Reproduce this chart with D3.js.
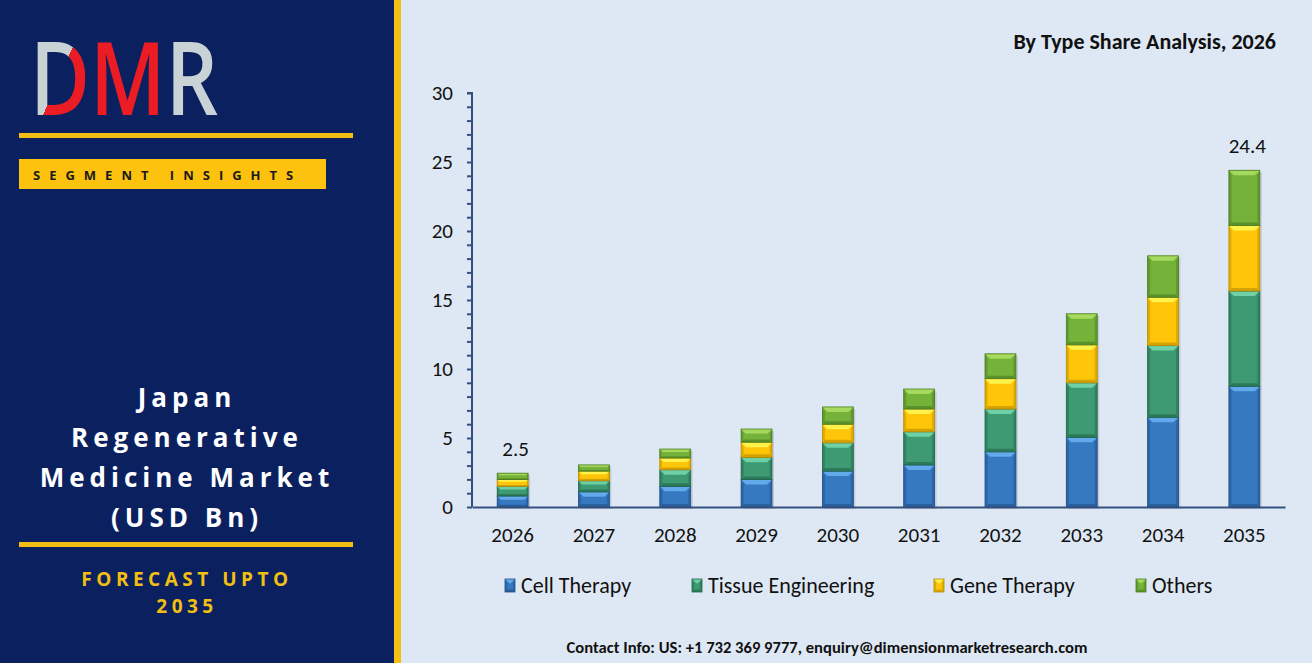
<!DOCTYPE html>
<html><head><meta charset="utf-8">
<script src="https://cdn.jsdelivr.net/npm/d3@7"></script>
<style>
html,body{margin:0;padding:0;background:#fff;}
svg{display:block;}
</style></head>
<body>
<script>
const years = ["2026","2027","2028","2029","2030","2031","2032","2033","2034","2035"];
const seriesNames = ["Cell Therapy","Tissue Engineering","Gene Therapy","Others"];
const cellTherapy = [0.8, 1.1, 1.5, 2.0, 2.6, 3.05, 4.0, 5.05, 6.5, 8.75];
const tissueEngineering = [0.7, 0.8, 1.2, 1.6, 2.05, 2.4, 3.1, 3.95, 5.2, 6.9];
const geneTherapy = [0.5, 0.7, 0.85, 1.1, 1.35, 1.65, 2.2, 2.75, 3.5, 4.75];
const others = [0.45, 0.45, 0.65, 0.95, 1.25, 1.45, 1.8, 2.25, 3.0, 4.0];
const totalLabels = {"2026":"2.5","2035":"24.4"};
const yTicks = d3.range(0, 31, 1);

const W = 1312, H = 668;
const svg = d3.select("body").append("svg").attr("width", W).attr("height", H);
const FONT = "Carlito, Calibri, 'Open Sans', sans-serif";

// backgrounds
svg.append("rect").attr("x",0).attr("y",0).attr("width",W).attr("height",H).attr("fill","#ffffff");
svg.append("rect").attr("x",394).attr("y",0).attr("width",W-394).attr("height",663).attr("fill","#dee8f4");
svg.append("rect").attr("x",0).attr("y",0).attr("width",394).attr("height",663).attr("fill","#0b215f");
svg.append("rect").attr("x",394).attr("y",0).attr("width",7).attr("height",663).attr("fill","#f3bf12");

// logo
const defs = svg.append("defs");
const grad = defs.append("linearGradient").attr("id","dgrad")
  .attr("x1","0").attr("y1","0").attr("x2","1").attr("y2","1");
grad.append("stop").attr("offset","50%").attr("stop-color","#c9d3d6");
grad.append("stop").attr("offset","50%").attr("stop-color","#ec1c24");
const logoG = svg.append("g");
const logoLetters = [{t:"D", f:"url(#dgrad)"},{t:"M", f:"#ec1c24"},{t:"R", f:"#c9d3d6"}];
let lx = 0;
logoLetters.forEach(l=>{
  const t = logoG.append("text").attr("x",lx).attr("y",0).attr("font-family","'Open Sans', sans-serif")
    .attr("font-weight",600).attr("font-size",101).attr("fill",l.f).text(l.t);
  lx += t.node().getComputedTextLength();
});
const sx = 188 / lx;
logoG.attr("transform",`translate(30,115) scale(${sx},1)`);

svg.append("rect").attr("x",19).attr("y",133).attr("width",334).attr("height",5).attr("fill","#f3bf12");
svg.append("rect").attr("x",19).attr("y",159).attr("width",307).attr("height",30).attr("fill","#fcc20e");
svg.append("text").attr("x",33).attr("y",180).attr("font-family","'Open Sans', sans-serif")
  .attr("font-weight",700).attr("font-size",13).attr("fill","#1a1a1a")
  .attr("letter-spacing","9px").text("SEGMENT INSIGHTS");

const titleLines = ["Japan","Regenerative","Medicine Market","(USD Bn)"];
svg.append("g").selectAll("text").data(titleLines).join("text")
  .attr("x",187).attr("y",(d,i)=>407+i*40).attr("text-anchor","middle")
  .attr("font-family","'Open Sans', sans-serif").attr("font-weight",700).attr("font-size",26)
  .attr("letter-spacing","5px").attr("fill","#ffffff").text(d=>d);

svg.append("rect").attr("x",19).attr("y",542).attr("width",334).attr("height",5).attr("fill","#f3bf12");
svg.append("g").selectAll("text").data(["FORECAST UPTO","2035"]).join("text")
  .attr("x",187).attr("y",(d,i)=>586+i*27).attr("text-anchor","middle")
  .attr("font-family","'Open Sans', sans-serif").attr("font-weight",700).attr("font-size",19)
  .attr("letter-spacing","4.5px").attr("fill","#f3bf12").text(d=>d);

// subtitle
svg.append("text").attr("x",1276).attr("y",49).attr("text-anchor","end")
  .attr("font-family",FONT).attr("font-weight",700).attr("font-size",22).attr("fill","#111")
  .text("By Type Share Analysis, 2026");

// chart
const x = d3.scaleBand().domain(years).range([472,1285]).paddingInner(0.62).paddingOuter(0.31);
const y = d3.scaleLinear().domain([0,30]).range([507,93]);

const rows = years.map((yr,i)=>({year:yr, "Cell Therapy":cellTherapy[i], "Tissue Engineering":tissueEngineering[i], "Gene Therapy":geneTherapy[i], "Others":others[i]}));
const stack = d3.stack().keys(seriesNames)(rows);
const colors = {
  "Cell Therapy": {base:"#3679c1", light:"#62aaea", dark:"#1f4e86"},
  "Tissue Engineering": {base:"#3e9a72", light:"#6dd0a6", dark:"#22664a"},
  "Gene Therapy": {base:"#ffc609", light:"#fff24c", dark:"#b88c00"},
  "Others": {base:"#74b23a", light:"#a6da5e", dark:"#4a7b20"}
};

function bevel(g, x0, y0, w, h, c){
  const b = Math.min(5, h/3);
  g.append("rect").attr("x",x0).attr("y",y0).attr("width",w).attr("height",h).attr("fill",c.base);
  g.append("path").attr("d",`M${x0},${y0} L${x0+w},${y0} L${x0+w-b},${y0+b} L${x0+b},${y0+b} Z`).attr("fill",c.light);
  g.append("path").attr("d",`M${x0},${y0+h} L${x0+w},${y0+h} L${x0+w-b*0.6},${y0+h-b*0.6} L${x0+b*0.6},${y0+h-b*0.6} Z`).attr("fill",c.dark).attr("opacity",0.6);
  g.append("path").attr("d",`M${x0},${y0} L${x0+b*0.5},${y0+b} L${x0+b*0.5},${y0+h-b*0.5} L${x0},${y0+h} Z`).attr("fill",c.dark).attr("opacity",0.45);
  g.append("path").attr("d",`M${x0+w},${y0} L${x0+w-b*0.5},${y0+b} L${x0+w-b*0.5},${y0+h-b*0.5} L${x0+w},${y0+h} Z`).attr("fill",c.dark).attr("opacity",0.45);
  g.append("rect").attr("x",x0).attr("y",y0).attr("width",w).attr("height",h).attr("fill","none").attr("stroke",c.dark).attr("stroke-width",0.8);
}

// shadows
const shadowG = svg.append("g");
rows.forEach((r,i)=>{
  const top = stack[stack.length-1][i][1];
  shadowG.append("rect").attr("x",x(r.year)+2).attr("y",y(top)+2).attr("width",x.bandwidth()).attr("height",y(0)-y(top)).attr("fill","#000").attr("opacity",0.12);
});

const barsG = svg.append("g");
stack.forEach(s=>{
  s.forEach((d,i)=>{
    const x0 = x(years[i]), w = x.bandwidth();
    const yTop = y(d[1]), h = y(d[0]) - y(d[1]);
    bevel(barsG, x0, yTop, w, h, colors[s.key]);
  });
});

// axes
const yAxis = d3.axisLeft(y).tickValues(yTicks).tickSize(5).tickPadding(14)
  .tickFormat(d=> d%5===0 ? d : "");
const gy = svg.append("g").attr("transform","translate(472,0)").call(yAxis);
gy.select(".domain").attr("stroke","#34507f").attr("stroke-width",2).attr("d","M-5,93H0V507");
gy.selectAll(".tick line").attr("stroke","#34507f").attr("stroke-width",2);
gy.selectAll(".tick text").attr("font-family",FONT).attr("font-size",21).attr("fill","#111");

const xAxis = d3.axisBottom(x).tickSize(0).tickPadding(20);
const gx = svg.append("g").attr("transform","translate(0,507)").call(xAxis);
gx.select(".domain").attr("stroke","#34507f").attr("stroke-width",2);
gx.selectAll(".tick text").attr("font-family",FONT).attr("font-size",21).attr("fill","#111");

// total labels
svg.append("g").selectAll("text").data(years.filter(yr=>totalLabels[yr])).join("text")
  .attr("x",d=>x(d)+x.bandwidth()/2+3)
  .attr("y",d=>{const i=years.indexOf(d); return y(stack[3][i][1])-17;})
  .attr("text-anchor","middle").attr("font-family",FONT).attr("font-size",21).attr("fill","#111")
  .text(d=>totalLabels[d]);

// legend
const legendX = [505, 692, 934, 1136];
const lg = svg.append("g");
seriesNames.forEach((n,i)=>{
  bevel(lg, legendX[i], 579, 10, 13, colors[n]);
  lg.append("text").attr("x",legendX[i]+16).attr("y",593).attr("font-family",FONT)
    .attr("font-size",22).attr("fill","#111").text(n);
});

svg.append("text").attr("x",827).attr("y",653).attr("text-anchor","middle")
  .attr("font-family",FONT).attr("font-weight",700).attr("font-size",16.6).attr("fill","#111")
  .text("Contact Info: US: +1 732 369 9777, enquiry@dimensionmarketresearch.com");
</script>
</body></html>
